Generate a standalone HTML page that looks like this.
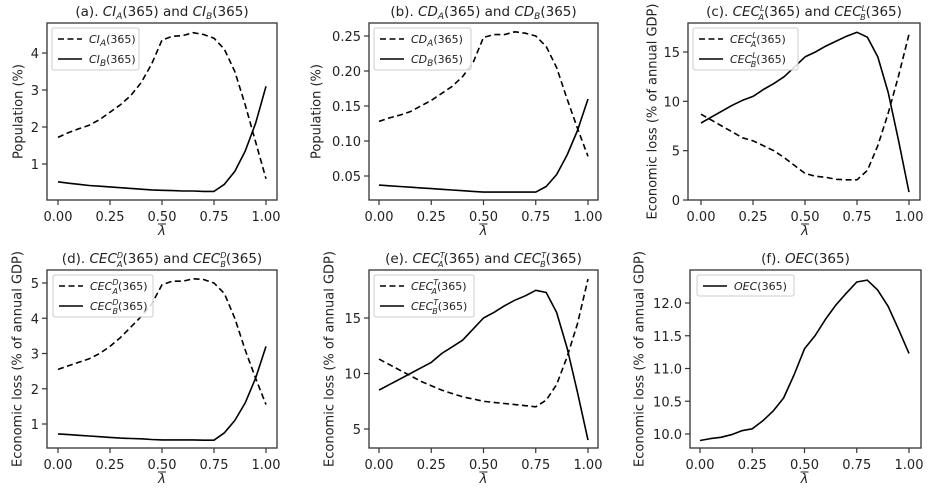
<!DOCTYPE html>
<html><head><meta charset="utf-8"><style>
body{margin:0;background:#fff;width:931px;height:493px;overflow:hidden}
svg{display:block;font-family:"DejaVu Sans","Liberation Sans",sans-serif;fill:#222}
</style></head><body>
<svg id="fig" width="931" height="493" viewBox="0 0 931 493"></svg>
<script>
const lambdas=[0,0.05,0.1,0.15,0.2,0.25,0.3,0.35,0.4,0.45,0.5,0.55,0.6,0.65,0.7,0.75,0.8,0.85,0.9,0.95,1];
const xTicks=[0,0.25,0.5,0.75,1];
const xTickLabels=["0.00","0.25","0.50","0.75","1.00"];
const ciA=[1.72,1.85,1.95,2.05,2.2,2.4,2.6,2.85,3.2,3.7,4.35,4.45,4.47,4.55,4.5,4.4,4.1,3.5,2.6,1.6,0.6];
const ciB=[0.52,0.48,0.45,0.42,0.4,0.38,0.36,0.34,0.32,0.3,0.29,0.28,0.27,0.27,0.26,0.26,0.45,0.8,1.35,2.1,3.1];
const cdA=[0.128,0.133,0.137,0.142,0.150,0.158,0.168,0.178,0.192,0.212,0.248,0.252,0.252,0.256,0.254,0.25,0.235,0.205,0.16,0.118,0.078];
const cdB=[0.037,0.036,0.035,0.034,0.033,0.032,0.031,0.030,0.029,0.028,0.027,0.027,0.027,0.027,0.027,0.027,0.035,0.052,0.08,0.115,0.16];
const cecLA=[8.7,8.1,7.5,6.9,6.3,6.0,5.5,5.0,4.3,3.5,2.7,2.4,2.3,2.1,2.05,2.05,3.0,5.5,8.8,12.6,16.8];
const cecLB=[7.8,8.4,9.0,9.6,10.1,10.5,11.2,11.8,12.5,13.5,14.5,15.0,15.6,16.1,16.6,17.0,16.5,14.5,10.9,6.0,0.8];
const cecDA=[2.55,2.65,2.75,2.85,3.0,3.2,3.45,3.75,4.05,4.4,4.95,5.05,5.05,5.12,5.1,5.0,4.7,4.0,3.1,2.3,1.55];
const cecDB=[0.72,0.7,0.68,0.66,0.64,0.62,0.6,0.59,0.58,0.56,0.55,0.55,0.55,0.55,0.54,0.54,0.75,1.1,1.6,2.3,3.2];
const cecTA=[11.3,10.8,10.3,9.8,9.3,8.9,8.5,8.2,7.9,7.7,7.5,7.4,7.3,7.2,7.1,7.0,7.6,9.0,11.5,14.5,18.5];
const cecTB=[8.5,9.0,9.5,10.0,10.5,11.0,11.8,12.4,13.0,14.0,15.0,15.5,16.1,16.6,17.0,17.5,17.3,15.5,12.3,8.3,4.0];
const oec=[9.9,9.93,9.95,9.99,10.05,10.08,10.2,10.35,10.55,10.9,11.3,11.5,11.75,11.97,12.15,12.32,12.35,12.2,11.95,11.6,11.23];
const yTicksA=[1,2,3,4];
const yTicksB=[0.05,0.10,0.15,0.20,0.25];
const yTicksC=[0,5,10,15];
const yTicksD=[1,2,3,4,5];
const yTicksE=[5,10,15];
const yTicksF=[10.0,10.5,11.0,11.5,12.0];

const NS="http://www.w3.org/2000/svg";
const fig=document.getElementById('fig');
function el(tag,attrs,parent,text){const e=document.createElementNS(NS,tag);for(const k in attrs)e.setAttribute(k,attrs[k]);if(text!==undefined)e.innerHTML=text;(parent||fig).appendChild(e);return e;}

const panels=[
 {id:'a',box:[47,23,277,200],x0:58,x1:266,yv:[1,4],yp:[164,53],ticks:yTicksA,dec:0,ylabel:'Population (%)',ylx:19,
  title:'(a). <tspan font-style="italic">CI</tspan><tspan font-style="italic" font-size="9" dy="3">A</tspan><tspan dy="-3">(365) and </tspan><tspan font-style="italic">CI</tspan><tspan font-style="italic" font-size="9" dy="3">B</tspan><tspan dy="-3">(365)</tspan>',
  series:[{d:ciA,dash:true,lab:'CI',sub:'A'},{d:ciB,dash:false,lab:'CI',sub:'B'}]},
 {id:'b',box:[369,23,598,200],x0:379,x1:588,yv:[0.05,0.25],yp:[176,36],ticks:yTicksB,dec:2,ylabel:'Population (%)',ylx:317,
  title:'(b). <tspan font-style="italic">CD</tspan><tspan font-style="italic" font-size="9" dy="3">A</tspan><tspan dy="-3">(365) and </tspan><tspan font-style="italic">CD</tspan><tspan font-style="italic" font-size="9" dy="3">B</tspan><tspan dy="-3">(365)</tspan>',
  series:[{d:cdA,dash:true,lab:'CD',sub:'A'},{d:cdB,dash:false,lab:'CD',sub:'B'}]},
 {id:'c',box:[688,23,920,200],x0:701,x1:909,yv:[0,15],yp:[200,52],ticks:yTicksC,dec:0,ylabel:'Economic loss (% of annual GDP)',sup:'L',ylx:653,
  series:[{d:cecLA,dash:true,lab:'CEC',sub:'A'},{d:cecLB,dash:false,lab:'CEC',sub:'B'}]},
 {id:'d',box:[47,270,277,448],x0:58,x1:266,yv:[1,5],yp:[424,283],ticks:yTicksD,dec:0,ylabel:'Economic loss (% of annual GDP)',sup:'D',ylx:18,
  series:[{d:cecDA,dash:true,lab:'CEC',sub:'A'},{d:cecDB,dash:false,lab:'CEC',sub:'B'}]},
 {id:'e',box:[369,270,598,448],x0:379,x1:588,yv:[5,15],yp:[429,318],ticks:yTicksE,dec:0,ylabel:'Economic loss (% of annual GDP)',sup:'T',ylx:330,
  series:[{d:cecTA,dash:true,lab:'CEC',sub:'A'},{d:cecTB,dash:false,lab:'CEC',sub:'B'}]},
 {id:'f',box:[690,270,921,448],x0:700,x1:909,yv:[10,12],yp:[434,303],ticks:yTicksF,dec:1,ylabel:'Economic loss (% of annual GDP)',ylx:640,
  title:'(f). <tspan font-style="italic">OEC</tspan>(365)',
  series:[{d:oec,dash:false,lab:'OEC',sub:''}]}
];
function supsub(lab,sup,sub){
  if(!sup&&!sub) return '<tspan font-style="italic">'+lab+'</tspan>(365)';
  if(!sup) return '<tspan font-style="italic">'+lab+'</tspan><tspan font-style="italic" font-size="9" dy="3">'+sub+'</tspan><tspan dy="-3">(365)</tspan>';
  return '<tspan font-style="italic">'+lab+'</tspan><tspan font-style="italic" font-size="8" dy="-5">'+sup+'</tspan><tspan font-style="italic" font-size="8" dx="-6" dy="9">'+sub+'</tspan><tspan dy="-4">(365)</tspan>';
}
panels.forEach(p=>{
  const g=el('g',{});
  
  
  const [L,T,R,B]=p.box;
  const sx=v=>p.x0+(p.x1-p.x0)*v;
  const sy=v=>p.yp[0]+(p.yp[1]-p.yp[0])*(v-p.yv[0])/(p.yv[1]-p.yv[0]);
  let title=p.title;
  if(p.sup) title='('+p.id+'). '+supsub('CEC',p.sup,'A')+'<tspan> and </tspan>'+supsub('CEC',p.sup,'B');
  const t=el('text',{x:(L+R)/2,y:T-7,'text-anchor':'middle','font-size':13.5},g,title);
  
  
  p.series.forEach((s,i)=>{
    const pts=s.d.map((v,k)=>sx(lambdas[k]).toFixed(1)+','+sy(v).toFixed(1)).join(' ');
    const pl=el('polyline',{points:pts,fill:'none',stroke:'#000','stroke-width':1.6,'stroke-dasharray':s.dash?'6,3.5':'none','stroke-linejoin':'round'},g);
    
    
  });
  const fr=el('rect',{x:L,y:T,width:R-L,height:B-T,fill:'none',stroke:'#333','stroke-width':1.3},g);
  
  
  xTicks.forEach((v,i)=>{
    el('line',{x1:sx(v),x2:sx(v),y1:B,y2:B+5,stroke:'#333','stroke-width':1.2},g);
    const tl=el('text',{x:sx(v),y:B+21,'text-anchor':'middle','font-size':13},g,xTickLabels[i]);
    
    
  });
  const xl=el('text',{x:sx(0.5),y:B+35,'text-anchor':'middle','font-size':13,'font-style':'italic'},g,'λ');
  
  
  el('line',{x1:sx(0.5)-4,x2:sx(0.5)+4,y1:B+24,y2:B+24,stroke:'#222','stroke-width':1},g);
  p.ticks.forEach(v=>{
    el('line',{x1:L-5,x2:L,y1:sy(v),y2:sy(v),stroke:'#333','stroke-width':1.2},g);
    const tl=el('text',{x:L-8,y:sy(v)+5,'text-anchor':'end','font-size':13},g,v.toFixed(p.dec));
    
    
  });
  const yc=(T+B)/2;
  const yx=p.ylx;
  const yl=el('text',{x:yx,y:yc,'text-anchor':'middle','dominant-baseline':'middle','font-size':13,transform:'rotate(-90 '+yx+' '+yc+')'},g,p.ylabel);
  
  
  const lw=p.sup?(p.id=='c'?105:100):(p.id=='f'?97:(p.id=='b'?97:87));
  const lh=p.series.length==1?21:42;
  const lx=p.id=='f'?L+7:(p.id=='d'?L+6:L+5), ly=T+5;
  const lg=el('g',{},g);
  
  
  el('rect',{x:lx,y:ly,width:lw,height:lh,rx:2,fill:'rgba(255,255,255,0.85)',stroke:'#ccc','stroke-width':1},lg);
  p.series.forEach((s,i)=>{
    const yy=ly+11+i*20;
    el('line',{x1:lx+6,x2:lx+30,y1:yy,y2:yy,stroke:'#000','stroke-width':1.6,'stroke-dasharray':s.dash?'6,3.5':'none'},lg);
    const lt=el('text',{x:lx+37,y:yy+4,'font-size':11},lg,supsub(s.lab,p.sup,s.sub));
    
    
  });
});
</script>
</body></html>
